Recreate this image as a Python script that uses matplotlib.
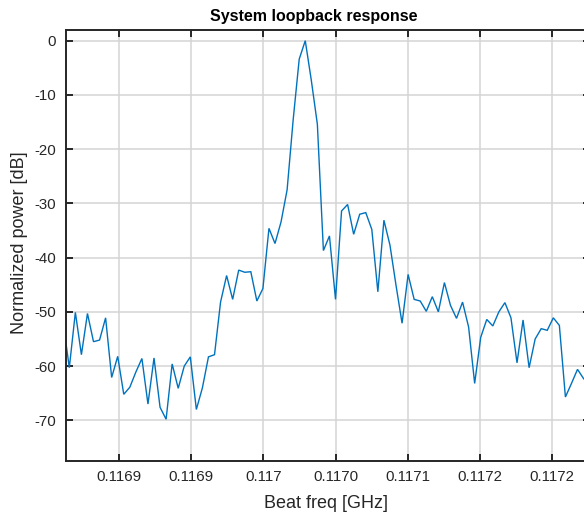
import numpy as np
import matplotlib
matplotlib.use("Agg")
import matplotlib.pyplot as plt

# Loopback spectrum: uniform FFT bin grid (GHz) and normalized power (dB)
freq_start_ghz = 0.11686138
bin_width_ghz = 4.1915e-6
power_db = [
    -52.1,
    -60.3, -50.1, -57.9, -50.3, -55.5, -55.2, -51.1, -62.1, -58.2, -65.2,
    -63.9, -61.1, -58.6, -67.0, -58.5, -67.6, -69.8, -59.6, -64.1, -60.0,
    -58.3, -68.0, -64.0, -58.3, -57.9, -48.2, -43.3, -47.7, -42.3, -42.7,
    -42.6, -48.0, -45.7, -34.6, -37.4, -33.4, -27.5, -14.6, -3.4, 0.0,
    -7.3, -15.4, -38.7, -36.0, -47.7, -31.4, -30.2, -35.7, -32.0, -31.7,
    -34.8, -46.3, -33.1, -37.7, -45.1, -52.1, -43.1, -47.7, -48.0, -49.9,
    -47.2, -50.0, -44.6, -48.8, -51.2, -48.2, -52.8, -63.2, -54.7, -51.4,
    -52.6, -50.0, -48.3, -51.1, -59.4, -51.5, -60.3, -55.0, -53.1, -53.4,
    -51.1, -52.5, -65.7, -63.2, -60.6, -62.3, -63.5,
]
freq_ghz = freq_start_ghz + bin_width_ghz * np.arange(len(power_db))

x_ticks = [0.11690, 0.11695, 0.11700, 0.11705, 0.11710, 0.11715, 0.11720]
x_tick_labels = ["0.1169", "0.1169", "0.117", "0.1170", "0.1171", "0.1172", "0.1172"]
y_ticks = [-70, -60, -50, -40, -30, -20, -10, 0]

plt.rcParams["font.family"] = ["Liberation Sans", "DejaVu Sans"]
plt.rcParams["axes.unicode_minus"] = False

W, H = 584, 514
fig = plt.figure(figsize=(W / 100, H / 100), dpi=100)
ax_left, ax_right, ax_top, ax_bottom = 66, 590, 30, 461
ax_w, ax_h = ax_right - ax_left, ax_bottom - ax_top
ax = fig.add_axes([ax_left / W, 1 - ax_bottom / H, ax_w / W, ax_h / H])

ax.plot(freq_ghz, power_db, color="#0072BD", lw=1.0, solid_joinstyle="miter")

ax.set_xlim(0.11686328, 0.11722631)
ax.set_ylim(-77.5, 1.97)
ax.set_xticks(x_ticks)
ax.set_xticklabels(x_tick_labels)
ax.set_yticks(y_ticks)

dark = "#262626"
ax.grid(True, color="#d4d4d4", lw=1.1)
ax.set_axisbelow(True)
for s in ax.spines.values():
    s.set_color(dark)
    s.set_linewidth(1.4)
ax.tick_params(direction="in", length=5, width=1.4, colors=dark,
               labelsize=10.8, top=True, right=True)
ax.tick_params(axis="x", pad=6.5)
ax.tick_params(axis="y", pad=7)

ax.set_xlabel("Beat freq [GHz]", fontsize=13, color=dark, va="center")
ax.xaxis.set_label_coords((326.5 - ax_left) / ax_w, (ax_bottom - 503) / ax_h)
ax.set_ylabel("Normalized power [dB]", fontsize=13, color=dark, va="center")
ax.yaxis.set_label_coords((20 - ax_left) / ax_w, (ax_bottom - 243) / ax_h)
fig.text(313.5 / W, 1 - 16 / H, "System loopback response", ha="center",
         va="center", fontsize=11.5, fontweight="bold", color="black")

fig.savefig("out.png", dpi=100)
